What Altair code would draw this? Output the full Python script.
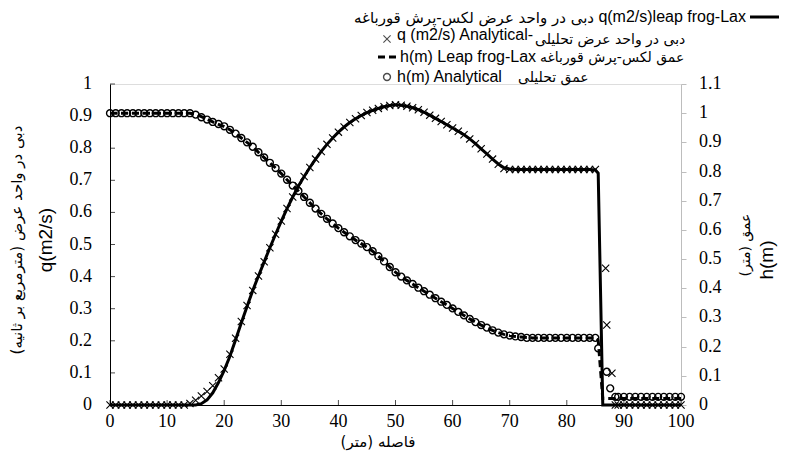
import altair as alt
import pandas as pd

# ---------------- data ----------------
x_grid = [0, 1, 2, 3, 4, 5, 6, 7, 8, 9, 10, 11, 12, 13, 14, 15, 16, 17, 18, 19,
          20, 21, 22, 23, 24, 25, 26, 27, 28, 29, 30, 31, 32, 33, 34, 35, 36, 37, 38, 39,
          40, 41, 42, 43, 44, 45, 46, 47, 48, 49, 50, 51, 52, 53, 54, 55, 56, 57, 58, 59,
          60, 61, 62, 63, 64, 65, 66, 67, 68, 69, 70, 71, 72, 73, 74, 75, 76, 77, 78, 79,
          80, 81, 82, 83, 84, 85]

# analytical discharge q (m2/s), x = 0..85
q_analytical = [0, 0, 0, 0, 0, 0, 0, 0, 0, 0, 0, 0, 0, 0, 0.005, 0.015, 0.028, 0.042, 0.06, 0.085,
                0.112, 0.158, 0.208, 0.26, 0.31, 0.357, 0.402, 0.446, 0.49, 0.532, 0.573, 0.612, 0.648, 0.682, 0.712, 0.74, 0.766, 0.79, 0.812, 0.832,
                0.85, 0.866, 0.88, 0.892, 0.902, 0.911, 0.918, 0.924, 0.929, 0.933, 0.935, 0.934, 0.931, 0.926, 0.92, 0.912, 0.903, 0.893, 0.883, 0.873,
                0.863, 0.853, 0.842, 0.829, 0.814, 0.798, 0.782, 0.766, 0.75, 0.737, 0.734, 0.734, 0.734, 0.734, 0.734, 0.734, 0.734, 0.734, 0.734, 0.734,
                0.734, 0.734, 0.734, 0.734, 0.734, 0.734]
# analytical depth h (m), x = 0..85
h_analytical = [1.0, 1.0, 1.0, 1.0, 1.0, 1.0, 1.0, 1.0, 1.0, 1.0, 1.0, 1.0, 1.0, 1.0, 1.0, 0.995, 0.986, 0.978, 0.97, 0.963,
                0.955, 0.943, 0.93, 0.915, 0.9, 0.885, 0.866, 0.848, 0.83, 0.812, 0.793, 0.772, 0.752, 0.733, 0.713, 0.693, 0.673, 0.655, 0.638, 0.622,
                0.606, 0.592, 0.578, 0.565, 0.553, 0.541, 0.527, 0.51, 0.492, 0.473, 0.455, 0.44, 0.427, 0.415, 0.402, 0.39, 0.378, 0.366, 0.354, 0.343,
                0.331, 0.319, 0.307, 0.295, 0.284, 0.274, 0.265, 0.256, 0.248, 0.242, 0.238, 0.235, 0.233, 0.23, 0.23, 0.23, 0.23, 0.23, 0.23, 0.23,
                0.23, 0.23, 0.23, 0.23, 0.23, 0.23]

# analytical points around the bore and downstream
x_q_bore = [86.8, 87.0, 87.9]
q_bore = [0.426, 0.249, 0.099]
x_h_bore = [85.5, 87.0, 87.6]
h_bore = [0.194, 0.114, 0.057]
x_down = [88.5, 89, 90, 91, 92, 93, 94, 95, 96, 97, 98, 99, 100]
q_down = [0, 0, 0, 0, 0, 0, 0, 0, 0, 0, 0, 0, 0]
h_down = [0.028, 0.028, 0.028, 0.028, 0.028, 0.028, 0.028, 0.028, 0.028, 0.028, 0.028, 0.028, 0.028]

# Leap frog-Lax numerical solution
x_num = [0, 1, 2, 3, 4, 5, 6, 7, 8, 9, 10, 11, 12, 13, 14, 15, 16, 17, 18, 19,
         20, 21, 22, 23, 24, 25, 26, 27, 28, 29, 30, 31, 32, 33, 34, 35, 36, 37, 38, 39,
         40, 41, 42, 43, 44, 45, 46, 47, 48, 49, 50, 51, 52, 53, 54, 55, 56, 57, 58, 59,
         60, 61, 62, 63, 64, 65, 66, 67, 68, 69, 70, 71, 72, 73, 74, 75, 76, 77, 78, 79,
         80, 81, 82, 83, 84, 85, 85.5, 86.3, 100]
q_num = [0, 0, 0, 0, 0, 0, 0, 0, 0, 0, 0, 0, 0, 0, 0, 0, 0.004, 0.016, 0.038, 0.07,
         0.108, 0.152, 0.203, 0.256, 0.307, 0.357, 0.402, 0.446, 0.49, 0.532, 0.573, 0.612, 0.648, 0.682, 0.712, 0.74, 0.766, 0.79, 0.812, 0.832,
         0.85, 0.866, 0.88, 0.892, 0.902, 0.911, 0.918, 0.924, 0.929, 0.933, 0.935, 0.934, 0.931, 0.926, 0.92, 0.912, 0.903, 0.893, 0.883, 0.873,
         0.863, 0.853, 0.842, 0.829, 0.814, 0.798, 0.782, 0.766, 0.751, 0.739, 0.735, 0.734, 0.734, 0.734, 0.734, 0.734, 0.734, 0.734, 0.734, 0.734,
         0.734, 0.734, 0.734, 0.734, 0.734, 0.732, 0.722, 0.0, 0.0]
h_num = [1.0, 1.0, 1.0, 1.0, 1.0, 1.0, 1.0, 1.0, 1.0, 1.0, 1.0, 1.0, 1.0, 1.0, 1.0, 0.996, 0.988, 0.979, 0.97, 0.962,
         0.954, 0.943, 0.93, 0.915, 0.9, 0.885, 0.866, 0.848, 0.83, 0.812, 0.793, 0.772, 0.752, 0.733, 0.713, 0.693, 0.673, 0.655, 0.638, 0.622,
         0.606, 0.592, 0.578, 0.565, 0.553, 0.541, 0.527, 0.51, 0.492, 0.473, 0.455, 0.44, 0.427, 0.415, 0.402, 0.39, 0.378, 0.366, 0.354, 0.343,
         0.331, 0.319, 0.307, 0.295, 0.284, 0.274, 0.265, 0.256, 0.248, 0.242, 0.238, 0.235, 0.233, 0.231, 0.23, 0.23, 0.23, 0.23, 0.23, 0.23,
         0.23, 0.23, 0.23, 0.23, 0.23, 0.229, 0.222, 0.022, 0.022]

# axis ticks and their labels
x_ticks = [0, 10, 20, 30, 40, 50, 60, 70, 80, 90, 100]
x_labels = ["0", "10", "20", "30", "40", "50", "60", "70", "80", "90", "100"]
q_ticks = [0, 0.1, 0.2, 0.3, 0.4, 0.5, 0.6, 0.7, 0.8, 0.9, 1]
q_labels = ["0", "0.1", "0.2", "0.3", "0.4", "0.5", "0.6", "0.7", "0.8", "0.9", "1"]
h_ticks = [0, 0.1, 0.2, 0.3, 0.4, 0.5, 0.6, 0.7, 0.8, 0.9, 1, 1.1]
h_labels = ["0", "0.1", "0.2", "0.3", "0.4", "0.5", "0.6", "0.7", "0.8", "0.9", "1", "1.1"]

leg1_en = "q(m2/s)leap frog-Lax"
leg1_fa = "دبی در واحد عرض لکس-پرش قورباغه"
leg2_en = "q (m2/s) Analytical-"
leg2_fa = "دبی در واحد عرض تحلیلی"
leg3_en = "h(m) Leap frog-Lax"
leg3_fa = "عمق لکس-پرش قورباغه"
leg4_en = "h(m) Analytical"
leg4_fa = "عمق تحلیلی"
title_q_fa = "دبی در واحد عرض (مترمربع بر ثانیه)"
title_q_en = "q(m2/s)"
title_h_fa = "عمق (متر)"
title_h_en = "h(m)"
title_x_fa = "فاصله (متر)"

# ---------------- frames ----------------
def frame(xs, ys):
    return pd.DataFrame({"x": xs, "y": ys})

q_an_df = frame(x_grid + x_q_bore + x_down, q_analytical + q_bore + q_down)
h_an_df = frame(x_grid + x_h_bore + x_down, h_analytical + h_bore + h_down)
q_num_df = frame(x_num, q_num)
h_num_df = frame(x_num, h_num)
qtick_df = pd.DataFrame({"y": q_ticks, "label": q_labels})
htick_df = pd.DataFrame({"y": h_ticks, "label": h_labels})
xtick_df = pd.DataFrame({"x": x_ticks, "label": x_labels})
one = pd.DataFrame({"a": [0]})

W, H = 571, 321
SANS = "Liberation Sans"
FA = "DejaVu Sans"
SERIF = "Liberation Serif"

x_axis = alt.Axis(values=x_ticks, ticks=False, labels=False, domainColor="black", domainWidth=1,
                  grid=False, title=None)
X = alt.X("x:Q", scale=alt.Scale(domain=[0, 100], nice=False, zero=False), axis=x_axis)

q_axis = alt.Axis(orient="left", values=q_ticks, ticks=False, labels=False, domainColor="black",
                  domainWidth=1, grid=False, title=None)
Yq = alt.Y("y:Q", scale=alt.Scale(domain=[0, 1], nice=False), axis=q_axis)

h_axis = alt.Axis(orient="right", values=h_ticks, ticks=True, tickSize=5, labels=False,
                  tickColor="#bdbdbd", domainColor="#bdbdbd", domainWidth=1, grid=False, title=None)
Yh = alt.Y("y:Q", scale=alt.Scale(domain=[0, 1.1], nice=False), axis=h_axis)

cross_path = "M-1,-1L1,1M-1,1L1,-1"

q_line = alt.Chart(q_num_df).mark_line(color="black", strokeWidth=3).encode(x=X, y=Yq)
q_pts = alt.Chart(q_an_df).mark_point(shape=cross_path, filled=False, color="black",
                                      size=52, strokeWidth=1.1, opacity=1).encode(x=X, y=Yq)
q_ticks_in = alt.Chart(qtick_df).mark_tick(color="black", size=5, thickness=1).encode(
    y=Yq, x=alt.value(2.5))
q_tick_labels = alt.Chart(qtick_df).mark_text(font=SERIF, fontSize=18, align="right",
                                              baseline="middle", color="black").encode(
    y=Yq, x=alt.value(-18), text="label:N")

h_line = alt.Chart(h_num_df).mark_line(color="black", strokeWidth=3, strokeDash=[7, 4]).encode(x=X, y=Yh)
h_pts = alt.Chart(h_an_df).mark_point(shape="circle", filled=False, color="black",
                                      size=48, strokeWidth=1.4, opacity=1).encode(x=X, y=Yh)
h_tick_labels = alt.Chart(htick_df).mark_text(font=SERIF, fontSize=18, align="left",
                                              baseline="middle", color="black").encode(
    y=Yh, x=alt.value(W + 18), text="label:N")

x_ticks_in = alt.Chart(xtick_df).mark_tick(color="black", size=5, thickness=1).encode(
    x=X, y=alt.value(H - 2.5))
x_tick_labels = alt.Chart(xtick_df).mark_text(font=SERIF, fontSize=18, align="center",
                                              baseline="middle", color="black").encode(
    x=X, y=alt.value(H + 17), text="label:N")

left = alt.layer(q_line, q_pts, q_ticks_in, q_tick_labels)
right = alt.layer(h_line, h_pts, h_tick_labels)


def txt(x, y, s, font=SANS, size=16, align="left", angle=0, baseline="middle"):
    kw = dict(text=s, font=font, fontSize=size, align=align, baseline=baseline, color="black")
    if angle:
        kw["angle"] = angle
    return alt.Chart(one).mark_text(**kw).encode(x=alt.value(x), y=alt.value(y))


def seg(x1, x2, y, dash=None):
    kw = dict(color="black", strokeWidth=3)
    if dash:
        kw["strokeDash"] = dash
    return alt.Chart(one).mark_rule(**kw).encode(x=alt.value(x1), x2=alt.value(x2), y=alt.value(y))


annotations = [
    # legend row 1 (symbol on the right)
    txt(636, -67, leg1_en, align="right"),
    txt(484, -66, leg1_fa, font=FA, size=15, align="right"),
    seg(640, 680, -67),
    # legend row 2
    alt.Chart(one).mark_point(shape=cross_path, filled=False, color="black", size=52, strokeWidth=1.1)
        .encode(x=alt.value(277), y=alt.value(-45)),
    txt(287, -49, leg2_en),
    txt(425, -44, leg2_fa, font=FA, size=14),
    # legend row 3
    seg(268, 286, -27, dash=[7, 4]),
    txt(290, -27, leg3_en),
    txt(430, -26, leg3_fa, font=FA, size=14),
    # legend row 4
    alt.Chart(one).mark_point(shape="circle", filled=False, color="black", size=48, strokeWidth=1.4)
        .encode(x=alt.value(277), y=alt.value(-7)),
    txt(287, -7, leg4_en),
    txt(408, -6, leg4_fa, font=FA, size=14),
    # axis titles
    txt(-93, 156, title_q_fa, font=FA, size=15, align="center", angle=270),
    txt(-64, 156, title_q_en, size=19, align="center", angle=270),
    txt(636, 161, title_h_fa, font=FA, size=14, align="center", angle=270),
    txt(657, 176, title_h_en, size=19, align="center", angle=270),
    txt(268, 358, title_x_fa, font=FA, size=15, align="center"),
]

chart = alt.layer(left, right, x_ticks_in, x_tick_labels, *annotations).resolve_scale(y="independent").properties(
    width=W, height=H, autosize="none",
    padding={"left": 102, "top": 76, "right": 98, "bottom": 46},
).configure_view(stroke=None).configure(background="white")

chart.save("out.html", embed_options={"renderer": "svg", "actions": False})
